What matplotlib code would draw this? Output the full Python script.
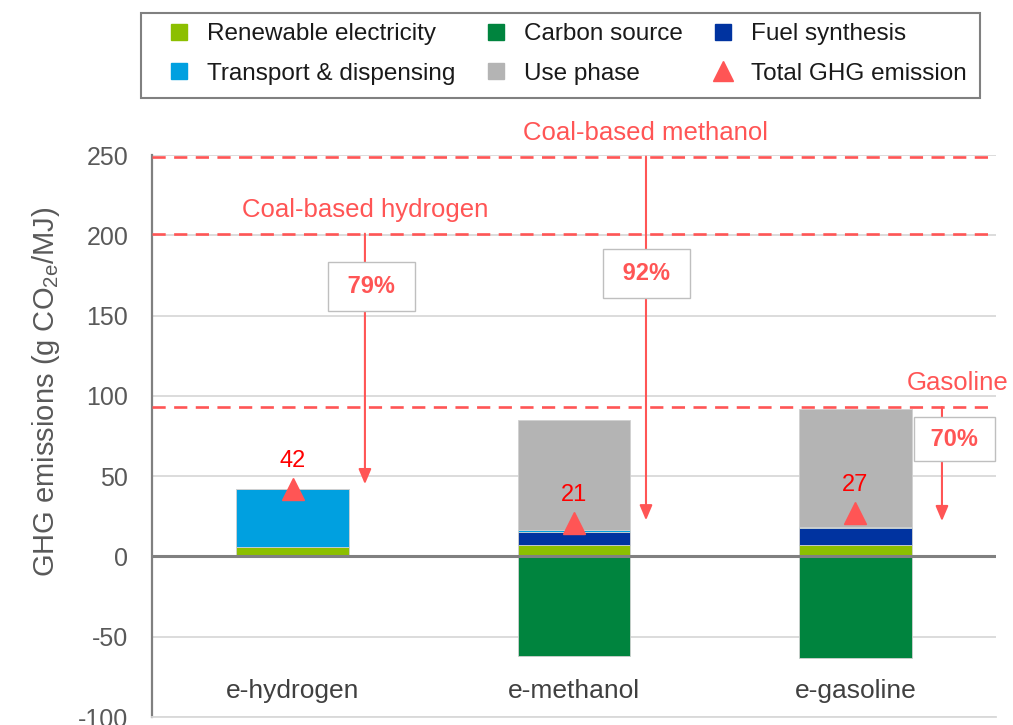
import matplotlib
matplotlib.use("Agg")
import matplotlib.pyplot as plt
from matplotlib.lines import Line2D
from matplotlib.patches import Rectangle
import numpy as np

plt.rcParams['font.family'] = ['Liberation Sans', 'DejaVu Sans']
plt.rcParams['axes.unicode_minus'] = False
plt.rcParams['mathtext.fontset'] = 'custom'
plt.rcParams['mathtext.rm'] = 'Liberation Sans'

# data (g CO2e/MJ)
fuels = ['e-hydrogen', 'e-methanol', 'e-gasoline']
renewable = [6, 7, 7]
carbon = [0, -62, -63.5]
synthesis = [0, 8.5, 11]
transport = [36, 0.8, 0.6]
use_phase = [0, 68.5, 73]
total = [42, 21, 27]

refs = ['Coal-based hydrogen', 'Coal-based methanol', 'Gasoline']
ref_values = [201, 249, 93]
reductions = ['79%', '92%', '70%']

# annotation placement
arrow_x = [0.257, 1.256, 2.308]
arrow_tip = [45, 22.5, 22]
ref_label_x = [0.257, 1.253, 2.362]
box_x = [0.28, 1.258, 2.353]
box_y = [168, 176.5, 73]
box_pad = [0.55, 0.55, 0.45]

c_ren = '#8CBF00'
c_carb = '#00843E'
c_syn = '#0033A0'
c_tra = '#00A0E0'
c_use = '#B4B4B4'
c_red = '#FF5555'

fig = plt.figure(figsize=(10.13, 7.25), dpi=100)
ax = fig.add_axes([0.150, 0.011, 0.8332, 0.7752])

x = np.arange(len(fuels))
w = 0.4
edge = dict(edgecolor='#D0D0D0', linewidth=0.6)
bottom = np.zeros(len(fuels))
for vals, col in [(renewable, c_ren), (synthesis, c_syn), (transport, c_tra), (use_phase, c_use)]:
    ax.bar(x, vals, w, bottom=bottom, color=col, zorder=2, **edge)
    bottom = bottom + np.array(vals)
ax.bar(x, carbon, w, color=c_carb, zorder=2, **edge)

ax.axhline(0, color='#808080', lw=2.2, zorder=3)

ax.plot(x, total, linestyle='none', marker='^', ms=16, color=c_red, zorder=4)
for xi, t in zip(x, total):
    ax.annotate(str(t), (xi, t), xytext=(0, 20), textcoords='offset points',
                ha='center', va='center', color='#FF0000', fontsize=17, zorder=5)

for xi, name in zip(x, fuels):
    ax.text(xi, -84, name, ha='center', va='center', fontsize=19, color='#404040')

for i in range(3):
    ax.axhline(ref_values[i], color=c_red, lw=1.9, dashes=(5, 3.2), zorder=3)
    ax.text(ref_label_x[i], ref_values[i] + 15, refs[i], ha='center', va='center',
            fontsize=18.5, color=c_red, clip_on=False)
    ax.annotate('', xy=(arrow_x[i], arrow_tip[i]), xytext=(arrow_x[i], ref_values[i]),
                arrowprops=dict(arrowstyle='-|>,head_length=0.9,head_width=0.38',
                                color=c_red, lw=1.5, shrinkA=0, shrinkB=0), zorder=4)
    ax.text(box_x[i], box_y[i], ' ' + reductions[i] + ' ', ha='center', va='center',
            fontsize=17, fontweight='bold', color=c_red, zorder=6,
            bbox=dict(boxstyle='square,pad=%s' % box_pad[i], facecolor='white',
                      edgecolor='#BFBFBF', lw=1))

ax.set_xlim(-0.5, 2.5)
ax.set_ylim(-100, 250)
ax.set_yticks(np.arange(-100, 251, 50))
ax.set_xticks([])
ax.tick_params(axis='y', length=0, pad=17, labelsize=18, labelcolor='#595959')
ax.grid(axis='y', color='#D9D9D9', lw=1.3, zorder=0)
ax.set_axisbelow(True)
for s in ['top', 'right']:
    ax.spines[s].set_visible(False)
ax.spines['left'].set_color('#808080')
ax.spines['left'].set_linewidth(1.6)
ax.spines['bottom'].set_color('#D9D9D9')
ax.spines['bottom'].set_linewidth(1.3)

fig.text(46 / 1013, 1 - 392 / 725, r'GHG emissions (g CO$_{\mathrm{2e}}$/MJ)', rotation=90,
         ha='center', va='center', fontsize=21, color='#595959')

handles = [
    Line2D([], [], ls='none', marker='s', ms=12, color=c_ren),
    Line2D([], [], ls='none', marker='s', ms=12, color=c_tra),
    Line2D([], [], ls='none', marker='s', ms=12, color=c_carb),
    Line2D([], [], ls='none', marker='s', ms=12, color=c_use),
    Line2D([], [], ls='none', marker='s', ms=12, color=c_syn),
    Line2D([], [], ls='none', marker='^', ms=15, color=c_red),
]
labels = ['Renewable electricity', 'Transport & dispensing', 'Carbon source',
          'Use phase', 'Fuel synthesis', 'Total GHG emission']
leg = fig.legend(handles, labels, ncol=3, loc='center',
                 bbox_to_anchor=(567 / 1013, 1 - 54 / 725),
                 fontsize=17.5, handlelength=1.0, handletextpad=0.65,
                 columnspacing=1.17, labelspacing=0.72, frameon=False,
                 borderpad=0, borderaxespad=0)
for t in leg.get_texts():
    t.set_color('#1A1A1A')
fig.patches.append(Rectangle((141 / 1013, 1 - 98 / 725), 839 / 1013, 85 / 725,
                             transform=fig.transFigure, fill=False,
                             edgecolor='#808080', lw=1.5))

fig.savefig('out.png', dpi=100)
